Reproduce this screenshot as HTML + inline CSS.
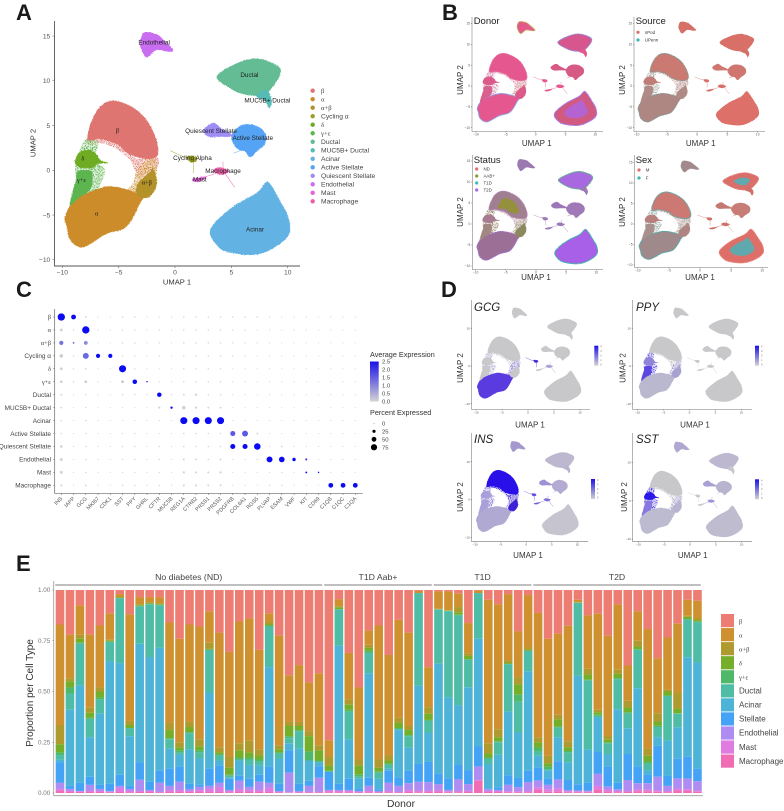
<!DOCTYPE html>
<html lang="en">
<head>
<meta charset="utf-8">
<title>Single-cell islet atlas figure</title>
<style>
html,body{margin:0;padding:0;background:#fff;width:784px;height:811px;overflow:hidden}
svg{display:block;filter:blur(.35px)}
text{font-family:"Liberation Sans",sans-serif}
.serif{font-family:"Liberation Serif",serif}
.letter{font-weight:700;font-size:22px;fill:#1a1a1a}
</style>
</head>
<body>
<svg id="fig" xmlns="http://www.w3.org/2000/svg" width="784" height="811" viewBox="0 0 784 811">
<defs>
<filter id="rough" x="-10%" y="-10%" width="120%" height="120%" color-interpolation-filters="sRGB"><feTurbulence type="fractalNoise" baseFrequency="0.9" numOctaves="2" seed="3" result="n"/><feDisplacementMap in="SourceGraphic" in2="n" scale="2" xChannelSelector="R" yChannelSelector="G"/></filter>
<filter id="roughSmall" x="-10%" y="-10%" width="120%" height="120%" color-interpolation-filters="sRGB"><feTurbulence type="fractalNoise" baseFrequency="1.1" numOctaves="2" seed="5" result="n"/><feDisplacementMap in="SourceGraphic" in2="n" scale="1" xChannelSelector="R" yChannelSelector="G"/></filter>
<filter id="speck" x="-5%" y="-5%" width="110%" height="110%" color-interpolation-filters="sRGB"><feTurbulence type="fractalNoise" baseFrequency="0.95" numOctaves="2" seed="8" result="n"/><feColorMatrix in="n" type="matrix" values="0 0 0 0 0 0 0 0 0 0 0 0 0 0 0 0 0 0 14 -7.4" result="m"/><feComposite in="SourceGraphic" in2="m" operator="in"/></filter>
<linearGradient id="exprGrad" x1="0" y1="0" x2="0" y2="1"><stop offset="0" stop-color="#1a10e8"/><stop offset="1" stop-color="#d3d3d3"/></linearGradient>
</defs>
<text class="letter" x="16" y="20">A</text>
<text class="letter" x="442" y="20">B</text>
<text class="letter" x="16" y="297">C</text>
<text class="letter" x="441" y="297">D</text>
<text class="letter" x="16" y="571">E</text>
<g id="panelA"></g>
<g id="panelB"></g>
<g id="panelC"></g>
<g id="panelD"></g>
<g id="panelE"></g>
</svg>
<script>
/* ---------- UMAP cluster outlines, in UMAP units ---------- */
const betaOutline=[[-7.72,3.39],[-7.49,5.2],[-6.66,7.1],[-5.47,7.8],[-3.85,7.1],[-2.5,5.6],[-1.63,3.35],[-1.54,1.7],[-2.3,1.3],[-3.5,1.5],[-4.3,2],[-5.15,2.9],[-6.65,3.5]];
const alphaOutline=[[-9.6,-6.3],[-9.76,-5.2],[-8.88,-3.3],[-6.66,-2.0],[-5.18,-1.85],[-2.96,-2.8],[-3.1,-3.7],[-4.3,-6.3],[-6.07,-7.1],[-8.14,-8.6],[-9.3,-7.8]];
const alphaBetaOutline=[[-1.95,.26],[-1.6,-1.08],[-1.77,-2.2],[-2.48,-3.1],[-3.37,-2.76],[-3.37,-1.64],[-2.84,-.86],[-2.22,-.19]];
const cyclingOutline=[[1.05,1.55],[1.8,1.55],[1.95,1.05],[1.35,.9]];
const deltaOutline=[[-8.87,1.15],[-8.43,2.04],[-7.54,2.27],[-6.92,1.71],[-6.65,1.15],[-5.95,.82],[-6.83,.7],[-7.36,.26],[-8.25,.26],[-8.78,.59]];
const gammaOutline=[[-8.7,-.19],[-8,.03],[-7.36,-.19],[-7.36,-1.64],[-7.72,-2.42],[-8.43,-2.98],[-9.32,-3.88],[-9.05,-2.2],[-8.78,-1.08]];
const ductalOutline=[[3.7,10.45],[5.2,11.8],[7.1,12.5],[8.7,11.95],[9.4,11.15],[8.9,9.7],[7.84,8.4],[6.07,8.5],[4.9,9.15]];
const mucOutline=[[7.4,8.6],[8.1,8.98],[8.6,7.85],[8.37,6.93],[8,7.7],[7.25,8.2]];
const acinarOutline=[[3.1,-7.05],[3.5,-5.9],[5.2,-4],[7.25,-2.5],[8.1,-1.3],[8.6,-1.8],[9.4,-3.6],[10.05,-5.2],[10.15,-7.05],[9,-8.5],[7.1,-9.45],[4.6,-9.1],[3.7,-8.35]];
const activeOutline=[[5,3.75],[5.8,5],[7.1,5.05],[8,4.15],[8,3],[7.25,2.1],[6.65,1.45],[6.2,2.1],[5.5,2.4]];
const quiescentOutline=[[2.5,4.5],[3.4,5.3],[4.1,4.7],[5.2,3.85],[4,3.75],[3,3.75]];
const endothelialOutline=[[-2.75,15.4],[-1.63,15.2],[-1.04,14.6],[-.15,13.45],[-.6,13.25],[-1.63,13.45],[-2.5,12.6],[-2.96,13.45],[-3.1,14.25]];
const mastOutline=[[1.6,-.95],[2.8,-.7],[2.2,-1.25],[1.6,-1.25]];
const macrophageOutline=[[3.4,-.05],[3.9,.35],[4.8,-.05],[4.1,-.5]];

const clusterKeys=['beta','alpha','alphaBeta','cycling','delta','gamma','ductal','muc','acinar','active','quiescent','endothelial','mast','macrophage'];
const clusterOutlines=[betaOutline,alphaOutline,alphaBetaOutline,cyclingOutline,deltaOutline,gammaOutline,ductalOutline,mucOutline,acinarOutline,activeOutline,quiescentOutline,endothelialOutline,mastOutline,macrophageOutline];
const clusterNames=['β','α','α+β','Cycling α','δ','γ+ε','Ductal','MUC5B+ Ductal','Acinar','Active Stellate','Quiescent Stellate','Endothelial','Mast','Macrophage'];
const clusterColors=['#df7570','#cc8c2a','#b3922a','#9aa023','#6fac24','#5db550','#64bc94','#57bbb5','#62b3e4','#55a3f5','#a08cf5','#c96ef0','#e264d8','#ec5fa8'];

const wispCycling=[[[-.44,2.2],[.6,1.6],[1.93,1.2]],[[1.63,1.15],[1.63,-.33]]];
const wispMacrophage=[[[4.26,1.0],[4.26,0]],[[4.3,-.1],[5.3,-1.9]],[[2,-1],[4,-.2]]];
const wispStellate=[[[5.2,1.9],[6.6,2.6]],[[4.5,4],[6,3.8]]];
const betaSpeckle=[[-7.72,3.6],[-4.88,3.05],[-3.55,1.37],[-1.6,1.49],[-1.69,.03],[-3.1,-.86],[-3.55,.03],[-4,1.15],[-5.32,2.49],[-6.65,3.05],[-7.54,2.83]];
const alphaSpeckle=[[-5.6,-1.86],[-4.44,-2.2],[-3.73,-1.42],[-3.37,.03],[-2.22,1.37],[-1.6,.59],[-1.95,-2.2],[-3.1,-3],[-4.44,-2.76],[-5.6,-2.42]];
const greenSpeckle=[[-7.98,3.39],[-6.83,3.16],[-7.1,1.15],[-6.2,.03],[-6.65,-1.64],[-7.1,-2.54],[-7.98,-2.76],[-8.87,.03]];

const labelPositionsA=[[-5.1,4.45],[-6.95,-4.8],[-2.5,-1.35],[1.55,1.4],[-8.17,1.3],[-8.3,-1.1],[6.6,10.65],[8.2,7.8],[7.1,-6.6],[6.9,3.6],[3.2,4.4],[-1.85,14.3],[2.2,-1],[4.26,-.1]];
const clusterPlotLabels=['β','α','α+β','Cycling Alpha','δ','γ+ε','Ductal','MUC5B+ Ductal','Acinar','Active Stellate','Quiescent Stellate','Endothelial','Mast','Macrophage'];

/* ---------- Dot plot data ---------- */
const dotGenes=['INS','IAPP','GCG','MKI67','CDK1','SST','PPY','GHRL','CFTR','MUC5B','REG1A','CTRB2','PRSS1','PRSS2','PDGFRB','COL6A1','RGS5','PLVAP','ESAM','VWF','KIT','CD69','C1QB','C1QC','C1QA'];
const dotRows=['β','α','α+β','Cycling α','δ','γ+ε','Ductal','MUC5B+ Ductal','Acinar','Active Stellate','Quiescent Stellate','Endothelial','Mast','Macrophage'];
const pctExpressed=[
[95,50,6,1,1,4,4,1,2,1,4,4,4,4,3,3,3,1,1,1,1,1,1,1,1],
[20,2,95,1,1,4,4,1,3,1,3,3,3,3,3,3,1,1,1,1,1,1,1,1,1],
[40,6,35,1,1,4,4,1,3,1,4,4,4,4,3,3,3,1,1,1,1,1,1,1,1],
[28,3,70,40,40,3,3,1,3,1,3,3,3,3,3,3,1,1,1,1,1,1,1,1,1],
[22,3,5,1,1,90,3,1,1,1,3,3,3,3,1,1,1,1,1,1,1,1,1,1,1],
[18,3,20,1,1,18,45,3,1,1,3,3,3,3,1,1,1,1,1,1,1,1,1,1,1],
[8,1,3,1,1,3,3,1,45,3,7,12,4,4,1,1,1,1,1,1,1,1,1,1,1],
[6,1,3,1,1,1,1,1,10,14,28,12,8,8,1,1,1,1,1,1,1,1,1,1,1],
[4,1,3,1,1,1,1,1,1,1,90,90,90,90,1,1,1,1,1,1,1,1,1,1,1],
[4,1,3,1,1,3,3,1,1,1,4,4,3,3,55,70,7,1,1,1,1,1,1,1,1],
[18,1,4,1,1,3,3,1,3,1,4,4,3,4,55,55,80,1,6,1,1,1,1,1,1],
[22,1,4,1,1,3,3,1,3,1,8,8,4,8,1,1,3,70,65,28,10,1,1,1,1],
[22,1,4,1,1,3,3,1,3,1,12,10,10,12,1,1,1,1,3,1,8,4,1,1,1],
[10,1,6,1,1,3,3,1,3,1,10,10,8,8,1,1,1,3,3,1,1,1,50,50,50]];
const avgExpression=[
[2.5,2.5,0,0,0,0,0,0,0,0,0,0,0,0,0,0,0,0,0,0,0,0,0,0,0],
[0,0,2.5,0,0,0,0,0,0,0,0,0,0,0,0,0,0,0,0,0,0,0,0,0,0],
[1.2,1.5,.9,0,0,0,0,0,0,0,0,0,0,0,0,0,0,0,0,0,0,0,0,0,0],
[.1,0,1.3,2.5,2.5,0,0,0,0,0,0,0,0,0,0,0,0,0,0,0,0,0,0,0,0],
[0,0,0,0,0,2.5,0,0,0,0,0,0,0,0,0,0,0,0,0,0,0,0,0,0,0],
[0,0,.05,0,0,.2,2.5,2.5,0,0,0,0,0,0,0,0,0,0,0,0,0,0,0,0,0],
[0,0,0,0,0,0,0,0,2.5,0,0,.05,0,0,0,0,0,0,0,0,0,0,0,0,0],
[0,0,0,0,0,0,0,0,.1,2.5,.1,.05,0,0,0,0,0,0,0,0,0,0,0,0,0],
[0,0,0,0,0,0,0,0,0,0,2.5,2.5,2.5,2.5,0,0,0,0,0,0,0,0,0,0,0],
[0,0,0,0,0,0,0,0,0,0,0,0,0,0,1.5,1.5,0,0,0,0,0,0,0,0,0],
[0,0,0,0,0,0,0,0,0,0,0,0,0,0,2.5,2.5,2.5,0,0,0,0,0,0,0,0],
[0,0,0,0,0,0,0,0,0,0,0,0,0,0,0,0,0,2.5,2.5,2.5,2,0,0,0,0],
[0,0,0,0,0,0,0,0,0,0,0,0,0,0,0,0,0,0,0,0,2.5,2.5,0,0,0],
[0,0,0,0,0,0,0,0,0,0,0,0,0,0,0,0,0,0,0,0,0,0,2.5,2.5,2.5]];
const exprLegendTicks=[2.5,2.0,1.5,1.0,0.5,0.0];
const pctLegendTicks=[0,25,50,75];

/* ---------- Stacked bars: each donor row lists the cumulative proportion at the
   lower edge of beta, alpha, alpha+beta, delta, gamma+epsilon, ductal, acinar,
   stellate, endothelial and mast ---------- */
const stackTypes=['β','α','α+β','δ','γ+ε','Ductal','Acinar','Stellate','Endothelial','Mast','Macrophage'];
const stackColors=['#ed7c72','#cf9030','#af9a2f','#75ae2a','#50b86a','#4fbda5','#4db4d8','#45a3f5','#ae8cf2','#e07be0','#f06db4'];
const noDiabetesDonors=[
[.83,.335,.24,.2,.187,.163,.15,.05,.02,.01],[.78,.565,.55,.52,.49,.41,.035,.02,.01,.005],[.925,.78,.76,.74,.735,.53,.05,.01,.008,.005],
[.78,.42,.395,.37,.365,.275,.08,.04,.01,.005],[.825,.52,.5,.47,.46,.39,.04,.02,.01,.005],[.885,.755,.75,.745,.745,.65,.045,.01,.006,.003],
[.98,.965,.963,.96,.96,.64,.09,.035,.025,.005],[.88,.355,.335,.32,.32,.28,.035,.02,.01,.003],[.965,.93,.925,.92,.92,.735,.15,.065,.01,.005],
[.965,.94,.935,.93,.93,.67,.055,.015,.01,.005],[.965,.935,.93,.925,.925,.715,.11,.05,.005,.002],[.84,.345,.31,.27,.265,.22,.12,.035,.015,.005],
[.76,.25,.225,.21,.2,.19,.13,.055,.015,.005],[.83,.35,.325,.3,.295,.215,.045,.02,.01,.005],[.82,.265,.23,.21,.2,.17,.04,.03,.015,.005],
[.895,.74,.71,.705,.705,.495,.12,.035,.02,.005],[.79,.225,.2,.19,.185,.16,.135,.05,.03,.005],[.695,.18,.125,.09,.085,.075,.07,.015,.01,.003],
[.845,.245,.21,.175,.165,.16,.085,.06,.02,.005],[.86,.26,.2,.175,.165,.14,.07,.03,.015,.005],[.705,.215,.185,.165,.155,.135,.09,.055,.015,.005],
[.885,.845,.83,.825,.82,.62,.13,.05,.025,.005],[.775,.235,.215,.2,.195,.17,.045,.01,.005,.002],[.58,.35,.33,.28,.27,.245,.21,.1,.003,.001],
[.63,.35,.33,.31,.305,.22,.045,.01,.005,.002],[.545,.305,.28,.205,.16,.16,.06,.035,.005,.002],[.59,.235,.21,.16,.155,.15,.13,.075,.005,.002]];
const aabDonors=[
[.26,.18,.135,.11,.105,.105,.105,.015,.012,.004],[.955,.92,.915,.905,.905,.725,.045,.015,.01,.003],[.69,.46,.435,.41,.4,.265,.07,.015,.01,.003],
[.52,.165,.135,.09,.08,.07,.02,.01,.005,.002],[.8,.73,.715,.7,.69,.59,.075,.035,.01,.004],[.825,.165,.125,.105,.1,.07,.018,.01,.005,.002],
[.68,.185,.16,.145,.14,.12,.11,.05,.01,.004],[.853,.37,.345,.32,.315,.31,.077,.035,.005,.002],[.79,.33,.31,.285,.28,.225,.11,.048,.015,.005],
[.995,.985,.985,.985,.985,.528,.143,.055,.012,.004],[.62,.423,.39,.36,.355,.298,.153,.053,.012,.005]];
const t1dDonors=[
[.993,.908,.905,.905,.903,.637,.097,.044,.015,.005],[.993,.9,.898,.897,.895,.472,.072,.015,.008,.003],[.982,.916,.89,.878,.875,.433,.138,.067,.01,.004],
[.837,.689,.675,.66,.656,.521,.113,.044,.012,.005],[.998,.985,.985,.985,.985,.76,.229,.13,.064,.06],[.952,.245,.195,.175,.17,.143,.023,.018,.01,.005],
[.93,.314,.275,.255,.25,.188,.028,.015,.01,.005],[.98,.653,.64,.635,.635,.401,.087,.04,.008,.004],[.796,.571,.535,.484,.45,.298,.074,.028,.008,.003],
[.975,.717,.705,.7,.7,.6,.109,.054,.01,.004]];
const t2dDonors=[
[.887,.275,.25,.224,.204,.183,.125,.061,.028,.015],[.76,.183,.146,.13,.118,.11,.072,.04,.018,.006],[.785,.385,.363,.327,.322,.275,.156,.067,.023,.008],
[.824,.255,.225,.207,.2,.151,.064,.015,.008,.004],[.952,.94,.938,.937,.936,.577,.043,.012,.008,.004],[.875,.612,.584,.558,.555,.215,.051,.012,.006,.003],
[.883,.41,.398,.385,.38,.372,.202,.094,.035,.018],[.775,.281,.262,.248,.245,.192,.13,.031,.015,.007],[.928,.607,.587,.566,.56,.413,.051,.018,.01,.004],
[.628,.454,.421,.398,.39,.319,.192,.064,.01,.005],[.895,.75,.722,.709,.705,.516,.13,.048,.018,.009],[.808,.217,.183,.155,.145,.113,.089,.048,.016,.008],
[.664,.393,.352,.331,.325,.275,.232,.08,.012,.006],[.766,.508,.5,.48,.478,.258,.084,.035,.01,.004],[.834,.495,.414,.393,.39,.324,.169,.072,.02,.012],
[.952,.873,.868,.857,.855,.669,.179,.071,.018,.012],[.947,.862,.85,.844,.842,.643,.12,.058,.012,.006]];
const statusGroups=['No diabetes (ND)','T1D Aab+','T1D','T2D'];
const proportionTicks=[0,.25,.5,.75,1];

/* ---------- Helpers ---------- */
const NS='http://www.w3.org/2000/svg';
function make(parent,tag,attrs){
  const e=document.createElementNS(NS,tag);
  for(const k in attrs)e.setAttribute(k,attrs[k]);
  parent.appendChild(e);
  return e;
}
function text(parent,x,y,s,size,fill,extra){
  const e=make(parent,'text',Object.assign({x:x,y:y,'font-size':size,fill:fill},extra||{}));
  e.textContent=s;
  return e;
}
function smoothPath(pts,sx,sy,scale){
  let cx=0,cy=0;
  pts.forEach(p=>{cx+=p[0];cy+=p[1];});
  cx/=pts.length;cy/=pts.length;
  const s=scale||1;
  const q=pts.map(p=>[sx(cx+(p[0]-cx)*s),sy(cy+(p[1]-cy)*s)]);
  const n=q.length;
  let d='M'+q[0][0].toFixed(1)+' '+q[0][1].toFixed(1);
  for(let i=0;i<n;i++){
    const p0=q[(i-1+n)%n],p1=q[i],p2=q[(i+1)%n],p3=q[(i+2)%n];
    const c1x=p1[0]+(p2[0]-p0[0])/6,c1y=p1[1]+(p2[1]-p0[1])/6;
    const c2x=p2[0]-(p3[0]-p1[0])/6,c2y=p2[1]-(p3[1]-p1[1])/6;
    d+='C'+c1x.toFixed(1)+' '+c1y.toFixed(1)+' '+c2x.toFixed(1)+' '+c2y.toFixed(1)+' '+p2[0].toFixed(1)+' '+p2[1].toFixed(1);
  }
  return d+'Z';
}
function signed(v){return v<0?'−'+Math.abs(v):String(v);}

function drawUmap(g,cfg,styles){
  const sx=u=>cfg.x0+cfg.ux*u, sy=v=>cfg.y0-cfg.uy*v;
  const rough=cfg.rough||'url(#roughSmall)';
  const defStyle=styles.base||['#c9c9cb'];
  const speckA=styles.speckBeta||defStyle[0], speckB=styles.speckAlpha||defStyle[0], speckC=styles.speckGreen||defStyle[0];
  [[betaSpeckle,speckA],[alphaSpeckle,speckB],[greenSpeckle,speckC]].forEach(pair=>{
    const wash=make(g,'path',{d:smoothPath(pair[0],sx,sy),fill:pair[1],'fill-opacity':.2});
    
    
    const s=make(g,'path',{d:smoothPath(pair[0],sx,sy),fill:pair[1],filter:'url(#speck)'});
    
    
  });
  const wispColor=k=>(styles[k]||defStyle)[0];
  [[wispCycling,'cycling'],[wispMacrophage,'macrophage'],[wispStellate,'active']].forEach(pair=>{
    pair[0].forEach(line=>{
      const w=make(g,'polyline',{points:line.map(p=>sx(p[0]).toFixed(1)+','+sy(p[1]).toFixed(1)).join(' '),fill:'none',stroke:wispColor(pair[1]),'stroke-width':cfg.wisp||.5,'stroke-opacity':.8});
      
      
    });
  });
  clusterKeys.forEach((key,i)=>{
    const st=styles[key]||defStyle;
    const attrs={d:smoothPath(clusterOutlines[i],sx,sy),fill:st[0],filter:rough};
    if(st[1]){attrs.stroke=st[1];attrs['stroke-width']=cfg.edge||1;}
    const blob=make(g,'path',attrs);
    
    
    if(st[2]){
      const inner=make(g,'path',{d:smoothPath(clusterOutlines[i],sx,sy,st[3]||.72),fill:st[2],filter:rough});
      
      
    }
  });
  const ax=make(g,'path',{d:'M'+cfg.left+' '+cfg.top+'V'+cfg.bottom+'H'+cfg.right,fill:'none',stroke:cfg.axis||'#555','stroke-width':cfg.axisW||.7});
  
  
  cfg.xTicks.forEach(t=>{
    const m=make(g,'line',{x1:sx(t),x2:sx(t),y1:cfg.bottom,y2:cfg.bottom+cfg.tick,stroke:'#555','stroke-width':.5});
    
    
    const l=text(g,sx(t),cfg.bottom+cfg.tick+cfg.fs*.95,signed(t),cfg.fs,'#555',{'text-anchor':'middle'});
    
    
  });
  cfg.yTicks.forEach(t=>{
    const m=make(g,'line',{x1:cfg.left-cfg.tick,x2:cfg.left,y1:sy(t),y2:sy(t),stroke:'#555','stroke-width':.5});
    
    
    const l=text(g,cfg.left-cfg.tick-cfg.fs*.3,sy(t)+cfg.fs*.35,signed(t),cfg.fs,'#555',{'text-anchor':'end'});
    
    
  });
  const xt=text(g,cfg.xtx,cfg.xty,'UMAP 1',cfg.tfs,'#333',{'text-anchor':'middle'});
  
  
  const yt=text(g,cfg.ytx,cfg.yty,'UMAP 2',cfg.tfs,'#333',{'text-anchor':'middle',transform:'rotate(-90 '+cfg.ytx+' '+cfg.yty+')'});
  
  
  if(cfg.title){
    const tt=text(g,cfg.titleX,cfg.titleY,cfg.title,cfg.titleSize,'#222',{'font-style':cfg.italic?'italic':'normal'});
    
    
  }
}

/* ---------- Panel A ---------- */
(function(){
  const g=document.getElementById('panelA');
  const styles={base:[clusterColors[0]],speckBeta:clusterColors[0],speckAlpha:clusterColors[1],speckGreen:clusterColors[5]};
  clusterKeys.forEach((k,i)=>{styles[k]=[clusterColors[i]];});
  const cfg={x0:175,ux:11.27,y0:170.3,uy:8.95,left:54.5,right:300,bottom:266,top:21,tick:2.2,fs:6.7,tfs:7.6,xtx:177,xty:284.5,ytx:35.5,yty:143,xTicks:[-10,-5,0,5,10],yTicks:[-10,-5,0,5,10,15],wisp:.55,axisW:.9,rough:'url(#rough)'};
  drawUmap(g,cfg,styles);
  const sx=u=>cfg.x0+cfg.ux*u, sy=v=>cfg.y0-cfg.uy*v;
  clusterPlotLabels.forEach((s,i)=>{
    const greek=i<=2||i===4||i===5;
    const l=text(g,sx(labelPositionsA[i][0]),sy(labelPositionsA[i][1])+2,s,6.4,'#222',{'text-anchor':'middle'});
    if(greek)l.setAttribute('class','serif');
    
    
  });
  clusterNames.forEach((s,i)=>{
    const yy=90.7+i*8.51;
    const d=make(g,'circle',{cx:312.7,cy:yy,r:2.2,fill:clusterColors[i]});
    
    
    const l=text(g,321,yy+2.4,s,6.7,'#444');
    if(i<=2||i===4||i===5)l.setAttribute('class','serif');
    
    
  });
})();

/* ---------- Panel B ---------- */
const smallFigTicks=[-10,-5,0,5,10];
(function(){
  const g=document.getElementById('panelB');
  const common={tick:1,fs:3.2,tfs:8,xTicks:smallFigTicks,yTicks:[-10,-5,0,5,10,15],wisp:.45,edge:.9,axisW:.55,axis:'#777',titleSize:9.5};
  const donor={base:['#e4578f'],beta:['#e4578f','#e66a98'],alpha:['#e4578f','#8fa0e0'],acinar:['#d05a80','#a880f0','#b464d0',.55],ductal:['#d7568e','#9a8acd'],active:['#d65a85'],quiescent:['#d65a85'],endothelial:['#e2598c','#c9a05a'],gamma:['#d8608c'],delta:['#dc5a8a'],alphaBeta:['#dc5a8a'],speckBeta:'#e08aa8',speckAlpha:'#d8a0a0',speckGreen:'#d88ab0'};
  const source={base:['#d66f68'],beta:['#cb7a72','#8e9793'],alpha:['#ae8783','#8e9793'],acinar:['#dd7068'],ductal:['#d97068'],active:['#cf7670'],quiescent:['#cf7670'],gamma:['#b08a84'],delta:['#c07c76'],alphaBeta:['#b08a84'],speckBeta:'#c99a94',speckAlpha:'#b8a09a',speckGreen:'#a8a8a4'};
  const status={base:['#9c78b8'],beta:['#a07f90','#b084b0','#94903c',.55],alpha:['#9c6f96','#a070c0'],acinar:['#a860e8','#40b8a8'],ductal:['#a868e0','#6ab090'],active:['#a078b8'],quiescent:['#9c78b8'],endothelial:['#9a78b0'],gamma:['#a08880'],delta:['#a87c90'],alphaBeta:['#8c8860'],speckBeta:'#b898a8',speckAlpha:'#a89a80',speckGreen:'#a09078'};
  const sex={base:['#d0706a'],beta:['#cc7873','#6fa5a5'],alpha:['#a0898a','#5ca8a8'],acinar:['#dd6f68','#e88078','#5fa9ae',.55],ductal:['#d96f6a','#e08078','#5faab0',.45],active:['#c87c76'],quiescent:['#c47872'],endothelial:['#a28a8c'],gamma:['#a8908c'],delta:['#b8807c'],alphaBeta:['#b08480'],speckBeta:'#c09c98',speckAlpha:'#a8a4a0',speckGreen:'#98a8a4'};
  drawUmap(g,Object.assign({x0:535.7,ux:5.97,y0:86,uy:4.17,left:472,right:603,bottom:131.5,top:17,xtx:536.7,xty:146,ytx:463,yty:80,title:'Donor',titleX:473.7,titleY:24},common),donor);
  drawUmap(g,Object.assign({x0:697.2,ux:6.05,y0:86,uy:4.17,left:634,right:765,bottom:131.5,top:17,xtx:700.7,xty:146,ytx:625,yty:80,title:'Source',titleX:635.7,titleY:24},common),source);
  drawUmap(g,Object.assign({x0:536,ux:6.03,y0:224,uy:4.2,left:472.3,right:603,bottom:269.5,top:155,xtx:536,xty:280,ytx:463,yty:212,title:'Status',titleX:473.7,titleY:163},common),status);
  drawUmap(g,Object.assign({x0:700,ux:6.22,y0:224,uy:4.1,left:634.5,right:768,bottom:267.5,top:155,xtx:700,xty:280,ytx:625,yty:212,title:'Sex',titleX:635.7,titleY:163},common),sex);
  const keys=[['nPod','#dc6f66',638,32.3],['UPenn','#3fb5b0',638,40],['ND','#dc6f66',476.7,169],['AAB+','#8c9a2e',476.7,176],['T1D','#3fb8b0',476.7,183],['T2D','#a868e8',476.7,190],['M','#dc6f66',639,170],['F','#3fb5b0',639,178]];
  keys.forEach(k=>{
    const d=make(g,'circle',{cx:k[2],cy:k[3],r:1.6,fill:k[1]});
    
    
    const l=text(g,k[2]+6.8,k[3]+1.6,k[0],4.4,'#333');
    
    
  });
})();

/* ---------- Panel C ---------- */
(function(){
  const g=document.getElementById('panelC');
  const x=i=>61.3+i*12.25, y=i=>317+i*12.95;
  const size=p=>.5+3.3*Math.pow(p/100,.8);
  const mix=v=>{
    const t=Math.max(0,Math.min(1,v/2.5));
    const c=(a,b)=>Math.round(a+(b-a)*t);
    return 'rgb('+c(211,10)+','+c(211,10)+','+c(211,245)+')';
  };
  const ax=make(g,'path',{d:'M54.7 309V493.3H362.7',fill:'none',stroke:'#666','stroke-width':.7});
  
  
  dotRows.forEach((r,i)=>{
    const l=text(g,51,y(i)+2.2,r,6.45,'#444',{'text-anchor':'end'});
    if(i<=2||i===4||i===5)l.setAttribute('class','serif');
    
    
    const t=make(g,'line',{x1:53.2,x2:54.7,y1:y(i),y2:y(i),stroke:'#666','stroke-width':.5});
    
    
    dotGenes.forEach((gene,j)=>{
      const d=make(g,'circle',{cx:x(j),cy:y(i),r:size(pctExpressed[i][j]).toFixed(2),fill:mix(avgExpression[i][j])});
      
      
    });
  });
  dotGenes.forEach((n,j)=>{
    const t=make(g,'line',{x1:x(j),x2:x(j),y1:493.3,y2:495,stroke:'#666','stroke-width':.5});
    
    
    const l=text(g,x(j)+1.5,499,n,5.4,'#555',{'text-anchor':'end',transform:'rotate(-45 '+(x(j)+1.5)+' 499)'});
    
    
  });
  const t1=text(g,370,357,'Average Expression',7.25,'#333');
  
  
  const bar=make(g,'rect',{x:370,y:361.5,width:8.7,height:40,fill:'url(#exprGrad)'});
  
  
  exprLegendTicks.forEach(v=>{
    const l=text(g,382,401.7-v/2.5*40+2,v.toFixed(1),5.9,'#444');
    
    
  });
  const t2=text(g,370,415,'Percent Expressed',7.25,'#333');
  
  
  pctLegendTicks.forEach((p,i)=>{
    const yy=423.3+i*8;
    const d=make(g,'circle',{cx:374,cy:yy,r:(p===0?.35:size(p)).toFixed(2),fill:'#000'});
    
    
    const l=text(g,382,yy+2,String(p),5.9,'#444');
    
    
  });
})();

/* ---------- Panel D ---------- */
(function(){
  const g=document.getElementById('panelD');
  const common={tick:1,fs:3,tfs:8,xTicks:smallFigTicks,yTicks:[-10,0,10],wisp:.45,axisW:.55,axis:'#777',titleSize:11.5,italic:true};
  const grey='#c8c8cb';
  const gcg={base:[grey],alpha:['#5a3be0'],cycling:['#4a30d8'],macrophage:['#a8a0d0'],speckBeta:'#c4c4cc',speckAlpha:'#8f80dc',speckGreen:'#b4b0d0'};
  const ppy={base:[grey],alpha:['#bab8ce'],gamma:['#5c48e0'],delta:['#8f84d8'],alphaBeta:['#a8a2d0'],speckBeta:'#c4c4cc',speckAlpha:'#a8a2d4',speckGreen:'#6050e0'};
  const ins={base:['#b8b4d0'],beta:['#2a10e8'],alphaBeta:['#3d20d8'],alpha:['#b0a9d2'],delta:['#a8a0d8'],gamma:['#a8a0d8'],acinar:['#c6c5cf'],ductal:['#bdb8d0'],endothelial:['#a598ce'],active:['#b4aad2'],quiescent:['#a090d4'],cycling:['#6050d8'],macrophage:['#8070d8'],mast:['#7060d8'],speckBeta:'#3a20e0',speckAlpha:'#8070d8',speckGreen:'#9080d8'};
  const sst={base:[grey],delta:['#2e18e8'],gamma:['#8878e0'],alpha:['#bdbbd0'],acinar:['#c0bcd0'],ductal:['#bdb8d0'],endothelial:['#b0a8d0'],active:['#b8b4d0'],quiescent:['#a8a0d2'],alphaBeta:['#b8b4d0'],macrophage:['#a090d4'],speckBeta:'#c4c4cc',speckAlpha:'#b0a8d2',speckGreen:'#5544e0'};
  drawUmap(g,Object.assign({x0:528,ux:5.2,y0:366,uy:3.78,left:471.7,right:590,bottom:409.5,top:300,xtx:530,xty:427.5,ytx:463,yty:368,title:'GCG',titleX:474,titleY:311},common),gcg);
  drawUmap(g,Object.assign({x0:689.5,ux:5.18,y0:366,uy:3.78,left:632.7,right:752,bottom:409.5,top:300,xtx:695,xty:427.5,ytx:625.5,yty:368,title:'PPY',titleX:636,titleY:311},common),ppy);
  drawUmap(g,Object.assign({x0:526.2,ux:5.12,y0:499.5,uy:3.78,left:471.7,right:588,bottom:541.7,top:433,xtx:528,xty:558,ytx:463,yty:497,title:'INS',titleX:474,titleY:443},common),ins);
  drawUmap(g,Object.assign({x0:690,ux:5.17,y0:500.8,uy:3.83,left:632.7,right:752,bottom:541.7,top:433,xtx:692.7,xty:558,ytx:627,yty:497,title:'SST',titleX:636,titleY:443},common),sst);
  [[594.3,345.7],[755,345.7],[591,479],[755,479.3]].forEach(p=>{
    const b=make(g,'rect',{x:p[0],y:p[1],width:4,height:20,fill:'url(#exprGrad)'});
    
    
    [0,1,2,3,4].forEach(i=>{
      const l=text(g,p[0]+6,p[1]+2+i*4.4,String(4-i),2.6,'#777');
      
      
    });
  });
})();

/* ---------- Panel E ---------- */
(function(){
  const g=document.getElementById('panelE');
  const allDonors=noDiabetesDonors.concat(aabDonors,t1dDonors,t2dDonors);
  const bandLeft=55.7,bandStep=9.96,barW=8.6;
  const x=i=>bandLeft+i*bandStep;
  const y=v=>793-v*203;
  allDonors.forEach((row,i)=>{
    const tops=[1].concat(row);
    const bottoms=row.concat([0]);
    tops.forEach((t,k)=>{
      const r=make(g,'rect',{x:x(i).toFixed(2),y:y(t).toFixed(2),width:barW,height:Math.max(0,y(bottoms[k])-y(t)).toFixed(2),fill:stackColors[k]});
      
      
    });
  });
  const ax=make(g,'path',{d:'M53.7 581V795.7H702.7',fill:'none',stroke:'#999','stroke-width':.8});
  
  
  proportionTicks.forEach(v=>{
    const l=text(g,50.3,y(v)+2.2,v.toFixed(2),6.3,'#777',{'text-anchor':'end'});
    
    
    const t=make(g,'line',{x1:52.2,x2:53.7,y1:y(v),y2:y(v),stroke:'#888','stroke-width':.5});
    
    
  });
  const groupSizes=[noDiabetesDonors.length,aabDonors.length,t1dDonors.length,t2dDonors.length];
  let start=0;
  groupSizes.forEach((n,i)=>{
    const a=x(start)-.5,b=x(start+n-1)+barW-1;
    const ln=make(g,'line',{x1:a,x2:b,y1:585,y2:585,stroke:'#555','stroke-width':.8});
    
    
    const l=text(g,(a+b)/2,580,statusGroups[i],8.7,'#444',{'text-anchor':'middle'});
    
    
    start+=n;
  });
  const yt=text(g,33,693,'Proportion per Cell Type',10,'#333',{'text-anchor':'middle',transform:'rotate(-90 33 693)'});
  
  
  const xt=text(g,401,807,'Donor',10.3,'#333',{'text-anchor':'middle'});
  
  
  stackTypes.forEach((s,i)=>{
    const yy=614+i*14.05;
    const r=make(g,'rect',{x:721,y:yy,width:13,height:13.2,fill:stackColors[i]});
    
    
    const l=text(g,739,yy+9.3,s,i<5?6.5:8,'#444');
    if(i<5)l.setAttribute('class','serif');
    
    
  });
})();
</script>
</body>
</html>
